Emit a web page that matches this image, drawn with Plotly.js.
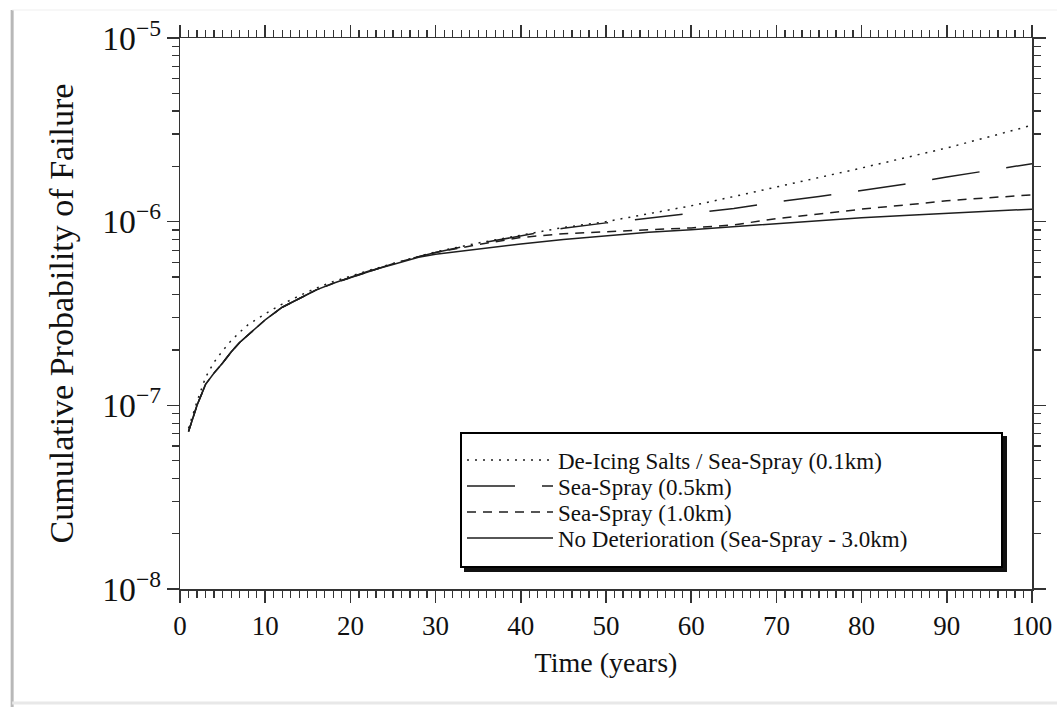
<!DOCTYPE html>
<html>
<head>
<meta charset="utf-8">
<script src="https://cdn.plot.ly/plotly-3.0.1.min.js"></script>
<style>
  html, body { margin: 0; padding: 0; background: #ffffff; }
  #chart { width: 1057px; height: 707px; }
</style>
</head>
<body>
<div id="chart"></div>
<script>
// Time (years)
const years = [1, 2, 3, 4, 5, 6, 7, 8, 10, 12, 14, 16, 18, 20, 22, 25, 28, 30, 35, 40, 45, 50, 55, 60, 65, 70, 75, 80, 85, 90, 95, 100];

// De-Icing Salts / Sea-Spray (0.1km)
const deIcing01 = [7.5e-8, 1.05e-7, 1.42e-7, 1.72e-7, 1.98e-7, 2.25e-7, 2.5e-7, 2.75e-7, 3.15e-7, 3.56e-7, 3.95e-7, 4.35e-7, 4.72e-7, 5.05e-7, 5.4e-7, 5.92e-7, 6.5e-7, 6.85e-7, 7.65e-7, 8.45e-7, 9.3e-7, 1.0e-6, 1.1e-6, 1.22e-6, 1.37e-6, 1.55e-6, 1.74e-6, 1.96e-6, 2.22e-6, 2.52e-6, 2.9e-6, 3.35e-6];

// Sea-Spray (0.5km)
const seaSpray05 = [7.2e-8, 1.0e-7, 1.3e-7, 1.5e-7, 1.7e-7, 1.95e-7, 2.2e-7, 2.42e-7, 2.92e-7, 3.42e-7, 3.82e-7, 4.25e-7, 4.62e-7, 4.95e-7, 5.35e-7, 5.9e-7, 6.45e-7, 6.8e-7, 7.6e-7, 8.4e-7, 9.2e-7, 9.85e-7, 1.05e-6, 1.11e-6, 1.18e-6, 1.28e-6, 1.37e-6, 1.48e-6, 1.6e-6, 1.75e-6, 1.9e-6, 2.07e-6];

// Sea-Spray (1.0km)
const seaSpray10 = [7.2e-8, 1.0e-7, 1.3e-7, 1.5e-7, 1.7e-7, 1.95e-7, 2.2e-7, 2.42e-7, 2.92e-7, 3.42e-7, 3.82e-7, 4.25e-7, 4.62e-7, 4.95e-7, 5.35e-7, 5.9e-7, 6.45e-7, 6.8e-7, 7.5e-7, 8.2e-7, 8.6e-7, 8.8e-7, 9.0e-7, 9.25e-7, 9.6e-7, 1.04e-6, 1.1e-6, 1.17e-6, 1.23e-6, 1.3e-6, 1.35e-6, 1.4e-6];

// No Deterioration (Sea-Spray - 3.0km)
const noDeterioration = [7.2e-8, 1.0e-7, 1.3e-7, 1.5e-7, 1.7e-7, 1.95e-7, 2.2e-7, 2.42e-7, 2.92e-7, 3.42e-7, 3.82e-7, 4.25e-7, 4.62e-7, 4.95e-7, 5.35e-7, 5.85e-7, 6.4e-7, 6.65e-7, 7.1e-7, 7.55e-7, 8.0e-7, 8.4e-7, 8.75e-7, 9.05e-7, 9.4e-7, 9.75e-7, 1.01e-6, 1.05e-6, 1.08e-6, 1.11e-6, 1.14e-6, 1.17e-6];

const seriesNames = [
  'De-Icing Salts / Sea-Spray (0.1km)',
  'Sea-Spray (0.5km)',
  'Sea-Spray (1.0km)',
  'No Deterioration (Sea-Spray - 3.0km)'
];

const xTickVals = [0, 10, 20, 30, 40, 50, 60, 70, 80, 90, 100];

const FONT = '"Liberation Serif", "Times New Roman", Times, serif';
const INK = '#1e1e1e';

const traces = [
  { x: years, y: deIcing01, name: seriesNames[0], mode: 'lines',
    line: { color: INK, width: 1.5, dash: '2px,6px' } },
  { x: years, y: seaSpray05, name: seriesNames[1], mode: 'lines',
    line: { color: INK, width: 1.5, dash: '48px,27px' } },
  { x: years, y: seaSpray10, name: seriesNames[2], mode: 'lines',
    line: { color: INK, width: 1.5, dash: '9px,7px' } },
  { x: years, y: noDeterioration, name: seriesNames[3], mode: 'lines',
    line: { color: INK, width: 1.5 } }
];

const axisCommon = {
  showgrid: false,
  zeroline: false,
  showline: true,
  linecolor: '#333',
  linewidth: 1.5,
  mirror: 'ticks',
  ticks: 'outside',
  ticklen: 12,
  tickwidth: 1.5,
  tickcolor: '#333',
  tickfont: { family: FONT, size: 27, color: '#111' }
};

// plot area in pixels (from margins)
const M = { l: 180, r: 25, t: 38, b: 118 };
const W = 1057, H = 707;
const PW = W - M.l - M.r, PH = H - M.t - M.b;

// legend box geometry (pixels)
const LEG = { left: 460, top: 432, width: 543, height: 136, firstRow: 28, rowGap: 26, shadow: 4 };
const px2x = p => (p - M.l) / PW;
const px2y = p => (M.t + PH - p) / PH;

const layout = {
  width: W,
  height: H,
  margin: M,
  paper_bgcolor: '#ffffff',
  plot_bgcolor: '#ffffff',
  font: { family: FONT, color: '#111' },
  showlegend: true,
  xaxis: Object.assign({}, axisCommon, {
    range: [0, 100],
    tickvals: xTickVals,
    ticktext: xTickVals.map(String),
    minor: { dtick: 1, tick0: 0, ticks: 'outside', ticklen: 7, tickwidth: 1.2, tickcolor: '#333', showgrid: false },
    title: { text: 'Time (years)', font: { family: FONT, size: 28, color: '#111' }, standoff: 12 }
  }),
  yaxis: Object.assign({}, axisCommon, {
    type: 'log',
    range: [-8, -5],
    dtick: 1,
    exponentformat: 'power',
    minor: { dtick: 'D1', ticks: 'outside', ticklen: 7, tickwidth: 1.2, tickcolor: '#333', showgrid: false },
    title: { text: 'Cumulative Probability of Failure', font: { family: FONT, size: 34, color: '#111' }, standoff: 18 }
  }),
  legend: {
    x: px2x(LEG.left), y: px2y(LEG.top), xanchor: 'left', yanchor: 'top',
    bgcolor: '#ffffff',
    bordercolor: '#000000',
    borderwidth: 2,
    itemwidth: 86,
    font: { family: FONT, size: 23, color: '#111' },
    traceorder: 'normal'
  },
  shapes: [
    // legend drop shadow
    { type: 'rect', xref: 'paper', yref: 'paper',
      x0: px2x(LEG.left + LEG.shadow), x1: px2x(LEG.left + LEG.width + LEG.shadow),
      y0: px2y(LEG.top + LEG.height + LEG.shadow), y1: px2y(LEG.top + LEG.shadow),
      fillcolor: '#111111', line: { width: 0 }, layer: 'above' },
    // page frame (scan edges)
    { type: 'line', xref: 'paper', yref: 'paper', x0: -0.197, x1: -0.197, y0: -0.214, y1: 1.0508,
      line: { color: '#b8b8b8', width: 3 } },
    { type: 'line', xref: 'paper', yref: 'paper', x0: -0.197, x1: 1.03, y0: 1.0508, y1: 1.0508,
      line: { color: '#efefef', width: 1 } },
    { type: 'line', xref: 'paper', yref: 'paper', x0: -0.197, x1: 1.03, y0: -0.207, y1: -0.207,
      line: { color: '#e8e8e8', width: 3 } }
  ]
};

const gd = document.getElementById('chart');
Plotly.newPlot(gd, traces, layout, { displayModeBar: false, staticPlot: true }).then(function () {
  // tighten the legend rows and size its box like the original figure
  const bw = layout.legend.borderwidth;
  const bg = gd.querySelector('.legend .bg');
  if (bg) {
    bg.setAttribute('width', LEG.width - bw);
    bg.setAttribute('height', LEG.height - bw);
  }
  const items = gd.querySelectorAll('.legend .traces');
  items.forEach(function (el, i) {
    const tr = el.getAttribute('transform') || '';
    const m = tr.match(/translate\(\s*([-\d.e]+)[ ,]+([-\d.e]+)\s*\)/);
    const x = m ? parseFloat(m[1]) : bw;
    el.setAttribute('transform', 'translate(' + x + ',' + (LEG.firstRow + i * LEG.rowGap) + ')');
  });
});
</script>
</body>
</html>
